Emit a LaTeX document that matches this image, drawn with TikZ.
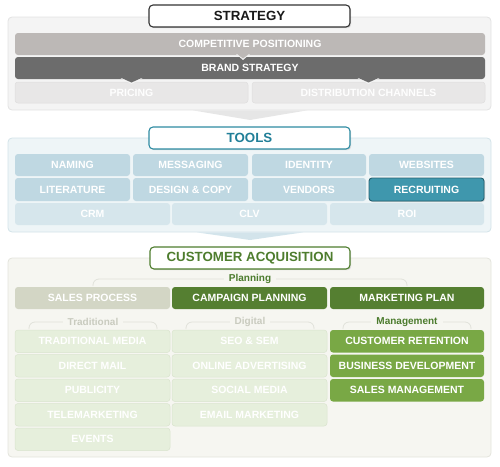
\documentclass[tikz,border=0pt]{standalone}
\usepackage{fontspec}
\setmainfont{Liberation Sans}
\usetikzlibrary{shadows}
\definecolor{sbg}{HTML}{F4F4F4}
\definecolor{sbd}{HTML}{E2E2E2}
\definecolor{cpc}{HTML}{BCB8B6}
\definecolor{bsc}{HTML}{6C6C6C}
\definecolor{plc}{HTML}{E8E7E7}
\definecolor{pld}{HTML}{DFDEDE}
\definecolor{tbg}{HTML}{EEF5F7}
\definecolor{tbd}{HTML}{D3E3E9}
\definecolor{tc1}{HTML}{BFD8E2}
\definecolor{tc2}{HTML}{D6E6EC}
\definecolor{tdk}{HTML}{2E8BA2}
\definecolor{ttx}{HTML}{217F98}
\definecolor{rec}{HTML}{3F97AD}
\definecolor{recd}{HTML}{235F6F}
\definecolor{cbg}{HTML}{F6F6F1}
\definecolor{cbd}{HTML}{E3E4DC}
\definecolor{spc}{HTML}{D3D6C5}
\definecolor{dkg}{HTML}{557F31}
\definecolor{mdg}{HTML}{79A845}
\definecolor{ltg}{HTML}{E6EFDC}
\definecolor{ltgd}{HTML}{DAE4CE}
\definecolor{gtx}{HTML}{4E7D2E}
\definecolor{glb}{HTML}{4B7B2D}
\definecolor{gry}{HTML}{C9CBBF}
\definecolor{brk}{HTML}{E1E2DA}
\definecolor{chv1}{HTML}{E6E6E6}
\definecolor{chv2}{HTML}{D3E4EB}
\newcommand\mybox[7]{%
  \node[#6, minimum width={(#4-#2)*1pt}, minimum height={(#5-#3)*1pt}] (#1) at ({(#2+#4)/2},{(#3+#5)/2}) {#7};}
\begin{document}
\begin{tikzpicture}[x=1pt,y=-1pt,
  bar/.style={inner sep=0pt, outer sep=0pt, rounded corners=3pt, text=white,
    font=\fontsize{10.5}{12}\bfseries\selectfont},
  panel/.style={inner sep=0pt, outer sep=0pt, rounded corners=4pt, line width=0.8pt},
  ttl/.style={inner sep=0pt, outer sep=0pt, fill=white, rounded corners=4pt, line width=1.1pt,
    font=\fontsize{13.3}{15}\bfseries\selectfont,
    drop shadow={shadow xshift=1.2pt, shadow yshift=-1.2pt, opacity=0.25}},
  lbl/.style={inner xsep=5pt, inner ysep=0pt, font=\fontsize{10}{12}\bfseries\selectfont},
  brkt/.style={draw=brk, line width=0.8pt, rounded corners=6pt},
  tool1/.style={bar, fill=tc1},
  tool2/.style={bar, fill=tc2},
  pale/.style={bar, fill=ltg, draw=ltgd, line width=0.5pt},
  mgmt/.style={bar, fill=mdg},
  dark/.style={bar, fill=dkg}]
\useasboundingbox (0,0) rectangle (500,466);
% ---------------- STRATEGY
\mybox{sp}{8}{17}{491}{110}{panel, fill=sbg, draw=sbd}{}
\fill[chv1] (193,110.4) -- (250,120) -- (307,110.4) -- cycle;
\mybox{cp}{15}{33}{485}{55}{bar, fill=cpc}{COMPETITIVE POSITIONING}
\mybox{bs}{15}{57}{485}{79}{bar, fill=bsc}{BRAND STRATEGY}
\mybox{pr}{15}{82}{248}{103}{bar, fill=plc, draw=pld, line width=0.5pt, text=white!97!plc}{PRICING}
\mybox{dc}{252}{82}{485}{103}{bar, fill=plc, draw=pld, line width=0.5pt, text=white!97!plc}{DISTRIBUTION CHANNELS}
\fill[sbg] ([xshift=-14pt,yshift=1pt]cp.south) -- ([xshift=-7pt,yshift=-5pt]cp.south) -- ([xshift=0pt,yshift=1pt]cp.south) -- cycle;
\fill[cpc] ([xshift=-13pt,yshift=1pt]cp.south) -- ([xshift=-7pt,yshift=-3.5pt]cp.south) -- ([xshift=-1pt,yshift=1pt]cp.south) -- cycle;
\fill[sbg] ([xshift=-11pt,yshift=1pt]bs.south -| pr.south) -- ([yshift=-5pt]bs.south -| pr.south) -- ([xshift=11pt,yshift=1pt]bs.south -| pr.south) -- cycle;
\fill[bsc] ([xshift=-10pt,yshift=1pt]bs.south -| pr.south) -- ([yshift=-3.5pt]bs.south -| pr.south) -- ([xshift=10pt,yshift=1pt]bs.south -| pr.south) -- cycle;
\fill[sbg] ([xshift=-11pt,yshift=1pt]bs.south -| dc.south) -- ([yshift=-5pt]bs.south -| dc.south) -- ([xshift=11pt,yshift=1pt]bs.south -| dc.south) -- cycle;
\fill[bsc] ([xshift=-10pt,yshift=1pt]bs.south -| dc.south) -- ([yshift=-3.5pt]bs.south -| dc.south) -- ([xshift=10pt,yshift=1pt]bs.south -| dc.south) -- cycle;
\mybox{st}{149}{5}{350}{27}{ttl, draw=black!80, text=black!90}{STRATEGY}
% ---------------- TOOLS
\mybox{tp}{8}{138}{491}{232}{panel, fill=tbg, draw=tbd}{}
\fill[chv2] (197,232.4) -- (250,240) -- (303,232.4) -- cycle;
\mybox{tt}{149}{127}{350}{149}{ttl, draw=tdk, text=ttx}{TOOLS}
\mybox{nam}{15}{154}{130}{176}{tool1}{NAMING}
\mybox{mes}{133}{154}{248}{176}{tool1}{MESSAGING}
\mybox{ide}{252}{154}{366}{176}{tool1}{IDENTITY}
\mybox{web}{369}{154}{484}{176}{tool1}{WEBSITES}
\mybox{lit}{15}{178}{130}{201}{tool1}{LITERATURE}
\mybox{des}{133}{178}{248}{201}{tool1}{DESIGN \& COPY}
\mybox{ven}{252}{178}{366}{201}{tool1}{VENDORS}
\mybox{rcr}{369}{178}{484}{201}{bar, fill=rec, draw=recd, line width=0.9pt,
  drop shadow={shadow xshift=1pt, shadow yshift=-1pt, opacity=0.35}}{RECRUITING}
\mybox{crm}{15}{203}{170}{225}{tool2}{CRM}
\mybox{clv}{172}{203}{327}{225}{tool2}{CLV}
\mybox{roi}{330}{203}{484}{225}{tool2}{ROI}
% ---------------- CUSTOMER ACQUISITION
\mybox{cap}{8}{258}{491}{457}{panel, fill=cbg, draw=cbd}{}
\mybox{ct}{150}{247}{350}{269}{ttl, draw=gtx, text=gtx}{CUSTOMER ACQUISITION}
\draw[brkt] (93,286) -- (93,279) -- (407,279) -- (407,286);
\node[lbl, fill=cbg, text=glb] (plan) at (250,279) {Planning};
\mybox{sal}{15}{287}{170}{309}{bar, fill=spc}{SALES PROCESS}
\mybox{cam}{172}{287}{327}{309}{dark}{CAMPAIGN PLANNING}
\mybox{mkt}{330}{287}{484}{309}{dark}{MARKETING PLAN}
\draw[brkt] (29,329) -- (29,322) -- (157,322) -- (157,329);
\draw[brkt] (186,329) -- (186,322) -- (314,322) -- (314,329);
\draw[brkt] (343,329) -- (343,322) -- (471,322) -- (471,329);
\node[lbl, fill=cbg, text=gry] (trd) at (93,322) {Traditional};
\node[lbl, fill=cbg, text=gry] (dig) at (250,322) {Digital};
\node[lbl, fill=cbg, text=glb] (mgt) at (407,322) {Management};
\mybox{t1}{15}{330}{170}{352.5}{pale}{TRADITIONAL MEDIA}
\mybox{t2}{15}{354.5}{170}{377}{pale}{DIRECT MAIL}
\mybox{t3}{15}{379}{170}{401.5}{pale}{PUBLICITY}
\mybox{t4}{15}{403.5}{170}{426}{pale}{TELEMARKETING}
\mybox{t5}{15}{428}{170}{450.5}{pale}{EVENTS}
\mybox{d1}{172}{330}{327}{352.5}{pale}{SEO \& SEM}
\mybox{d2}{172}{354.5}{327}{377}{pale}{ONLINE ADVERTISING}
\mybox{d3}{172}{379}{327}{401.5}{pale}{SOCIAL MEDIA}
\mybox{d4}{172}{403.5}{327}{426}{pale}{EMAIL MARKETING}
\mybox{m1}{330}{330}{484}{352.5}{mgmt}{CUSTOMER RETENTION}
\mybox{m2}{330}{354.5}{484}{377}{mgmt}{BUSINESS DEVELOPMENT}
\mybox{m3}{330}{379}{484}{401.5}{mgmt}{SALES MANAGEMENT}
\end{tikzpicture}
\end{document}
